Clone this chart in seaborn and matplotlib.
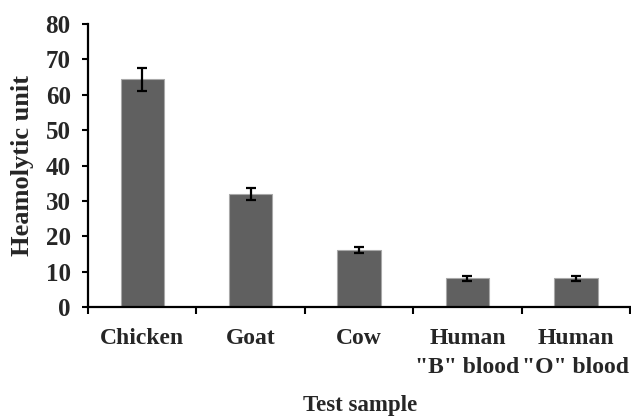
import matplotlib
matplotlib.use("Agg")
import matplotlib.pyplot as plt
import seaborn as sns
import pandas as pd
import numpy as np

categories = ["Chicken", "Goat", "Cow", "Human\n\"B\" blood", "Human\n\"O\" blood"]
values = [64.3, 32.0, 16.1, 8.2, 8.2]
errors = [3.2, 1.7, 0.85, 0.7, 0.7]
yticks = [0, 10, 20, 30, 40, 50, 60, 70, 80]

sns.set_theme(style="white")
plt.rcParams['font.family'] = ['Liberation Serif', 'DejaVu Serif']
plt.rcParams['font.weight'] = 'bold'

df = pd.DataFrame({"sample": categories, "value": values})

fig = plt.figure(figsize=(6.31, 4.19), dpi=100)
ax = fig.add_axes([0.1395, 0.267, 0.859, 0.676])

sns.barplot(data=df, x="sample", y="value", color="#606060", width=0.4,
            edgecolor="#a8a8a8", linewidth=0.8, saturation=1, ax=ax, errorbar=None)
ax.errorbar(np.arange(len(categories)), values, yerr=errors, fmt="none",
            ecolor="black", elinewidth=1.6, capsize=3.8, capthick=1.6)

ax.set_xlim(-0.5, len(categories) - 0.5)
ax.set_ylim(0, 80)
ax.set_yticks(yticks)
ax.set_yticklabels([str(t) for t in yticks], fontsize=18, fontweight="bold")
ax.set_xticks(np.arange(len(categories)))
ax.set_xticklabels(categories, fontsize=17, fontweight="bold", linespacing=1.5)
ax.set_xticks(np.arange(len(categories) + 1) - 0.5, minor=True)
ax.tick_params(axis="x", which="major", length=0, pad=15)
ax.tick_params(axis="x", which="minor", length=5, width=1.5, color="black", direction="out", bottom=True)
ax.tick_params(axis="y", which="major", length=4.5, width=1.5, color="black", direction="out", pad=8, left=True)

for s in ["top", "right"]:
    ax.spines[s].set_visible(False)
for s in ["left", "bottom"]:
    ax.spines[s].set_color("black")
    ax.spines[s].set_linewidth(1.6)

ax.set_xlabel("Test sample", fontsize=16.5, fontweight="bold", va="baseline")
ax.set_ylabel("Heamolytic unit", fontsize=19, fontweight="bold")
ax.xaxis.set_label_coords(0.502, -0.366)
ax.yaxis.set_label_coords(-0.10, 0.5)
ax.grid(False)

fig.savefig("out.png", dpi=100)
